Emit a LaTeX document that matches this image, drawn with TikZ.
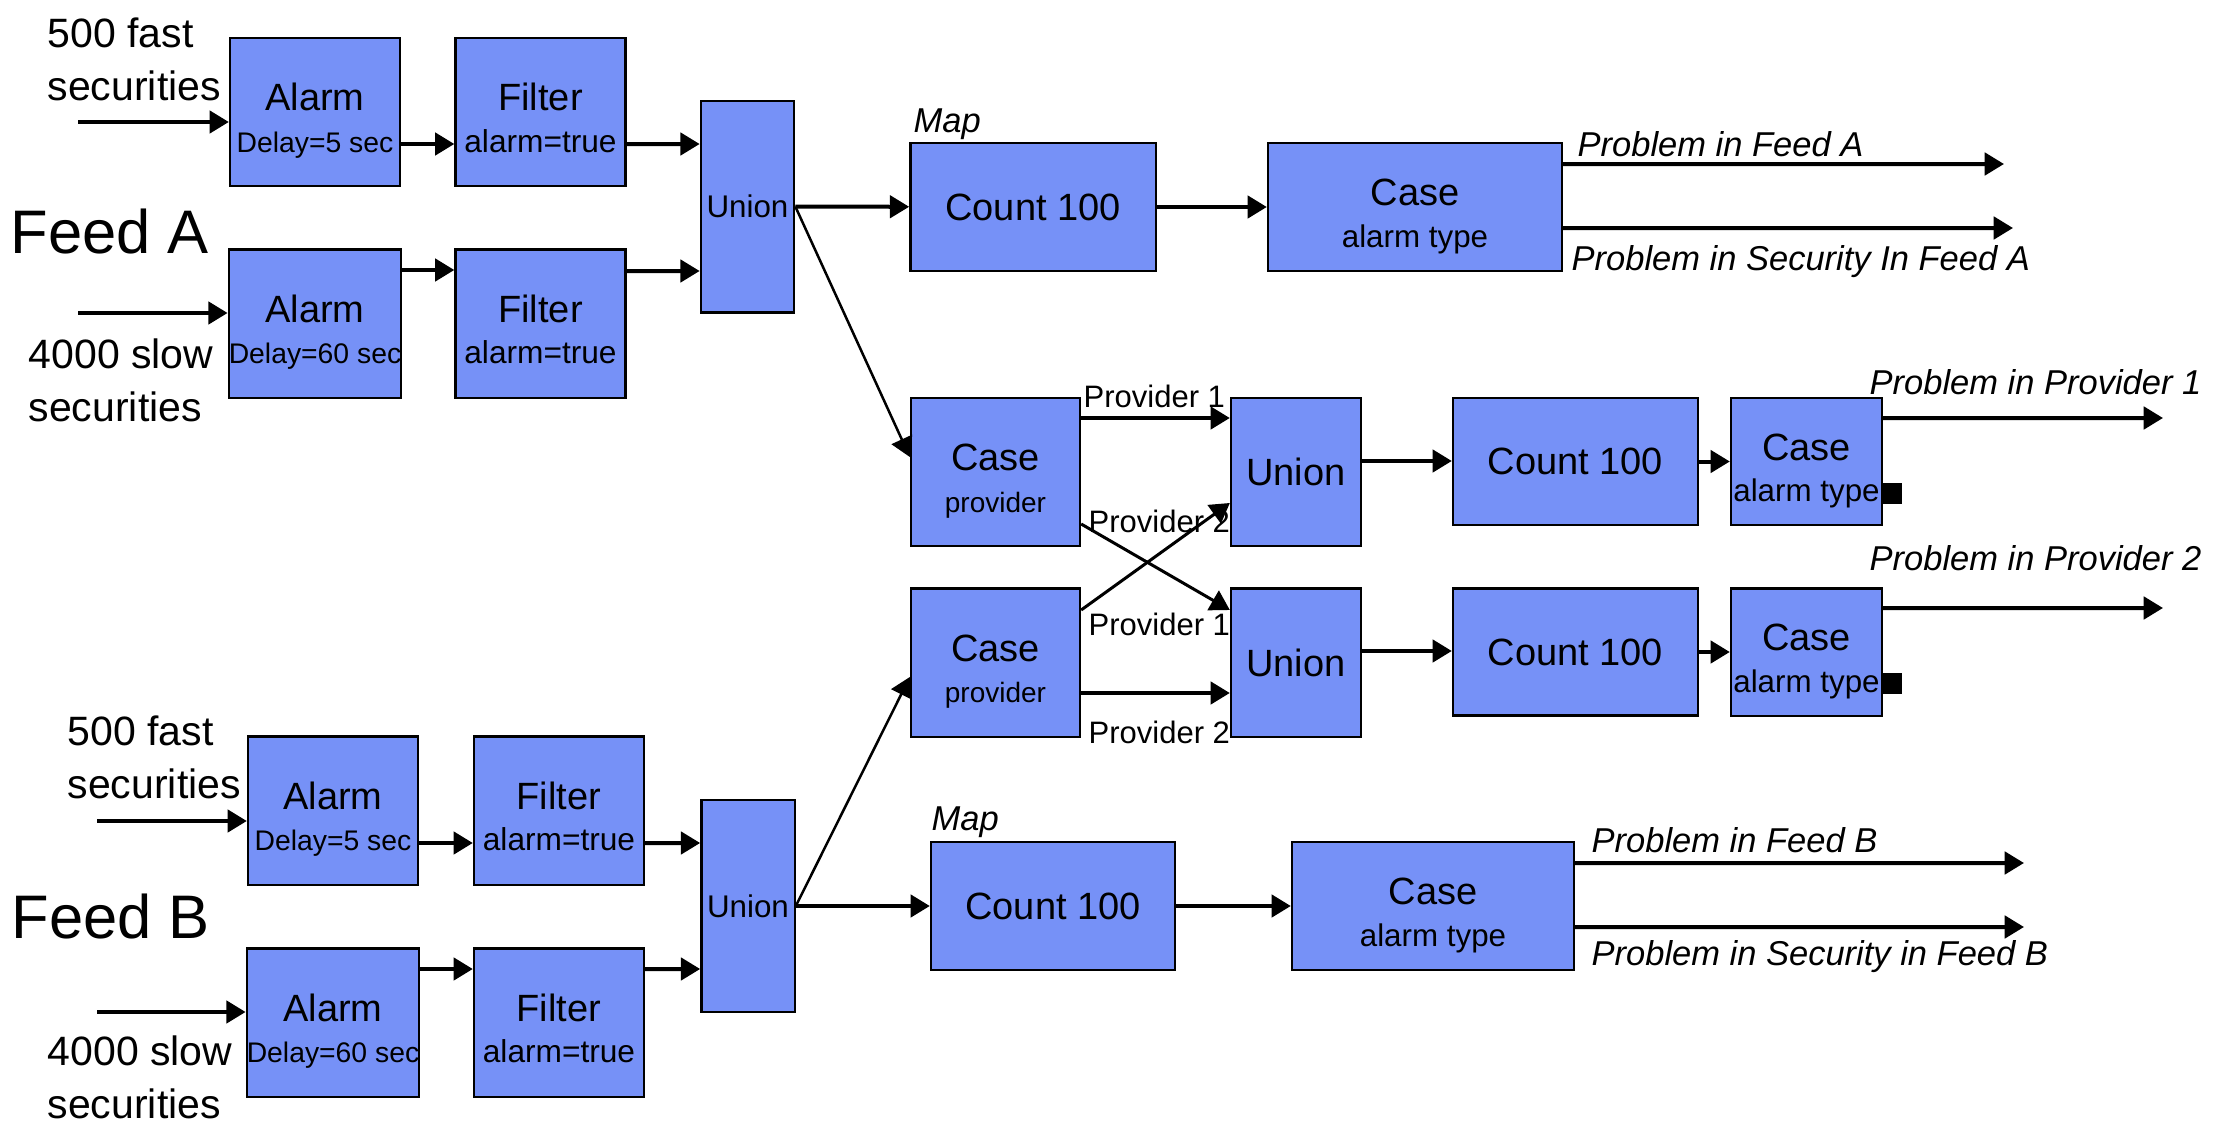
\documentclass[tikz,border=0pt]{standalone}
\usepackage{fontspec}
\setmainfont{Liberation Sans}
\usetikzlibrary{arrows.meta}

\begin{document}
\begin{tikzpicture}[x=0.3pt,y=0.3pt,yscale=-1,xscale=1,
    opbox/.style={draw=black,line width=0.7pt,fill={rgb,255:red,118;green,145;blue,247},inner sep=0pt,align=center,font=\fontsize{11.4}{12.5}\selectfont},
    twoline/.style={text height=24.1pt,text depth=0pt},
    alarmbox/.style={opbox,twoline,minimum width=51pt,minimum height=44.5pt},
    unionbox/.style={opbox,minimum width=28pt,minimum height=63.5pt,font=\fontsize{9.4}{11}\selectfont},
    countbox/.style={opbox,minimum width=73.6pt,minimum height=38.4pt},
    casebox/.style={opbox,twoline,minimum height=38.4pt},
    provbox/.style={opbox,twoline,minimum width=50.7pt,minimum height=44.5pt},
    punion/.style={opbox,minimum width=39pt,minimum height=44.5pt},
    pcase/.style={opbox,twoline,minimum width=45.3pt,minimum height=38.2pt},
    marker/.style={fill=black,inner sep=0pt,minimum width=6pt,minimum height=6.3pt},
    flow/.style={line width=1.2pt,-{Triangle[length=5.8pt,width=6.7pt]}},
    thinflow/.style={line width=0.75pt,-{Triangle[length=5.8pt,width=6.7pt]}},
    crossflow/.style={line width=0.9pt,-{Triangle[length=5.8pt,width=6.7pt]}},
    outlabel/.style={anchor=base west,inner sep=0pt,font=\fontsize{10.35}{12}\selectfont\itshape},
    provlabel/.style={anchor=base west,inner sep=0pt,font=\fontsize{9.3}{11}\selectfont},
    inlabel/.style={anchor=north west,inner sep=0pt,align=left,font=\fontsize{12.3}{15.8}\selectfont},
    feedlabel/.style={anchor=base west,inner sep=0pt,font=\fontsize{18.45}{22}\selectfont}
  ]
        \useasboundingbox (0,0) rectangle (2214,1136);

        % Feed A
        \node[feedlabel] (feedA) at (10,253) {Feed A};
        \node[inlabel] (fastA) at (47,17) {500 fast\\securities};
        \node[inlabel] (slowA) at (28,338) {4000 slow\\securities};
        \node[alarmbox] (alarmA1) at (315,112) {Alarm\\{\fontsize{8.5}{12.5}\selectfont Delay=5 sec}};
        \node[alarmbox] (filterA1) at (540.5,112) {Filter\\{\fontsize{9.5}{12.5}\selectfont alarm=true}};
        \node[alarmbox] (alarmA2) at (315,323.5) {Alarm\\{\fontsize{8.5}{12.5}\selectfont Delay=60 sec}};
        \node[alarmbox] (filterA2) at (540.5,323.5) {Filter\\{\fontsize{9.5}{12.5}\selectfont alarm=true}};
        \node[unionbox] (unionA) at (747.5,206.5) {Union};
        \node[outlabel] (mapA) at (913,132) {Map};
        \node[countbox] (countA) at (1033,207) {Count 100};
        \node[casebox,minimum width=88.2pt] (caseA) at (1415,207) {Case\\{\fontsize{9.4}{12.5}\selectfont alarm type}};
        \node[outlabel] (probFeedA) at (1577,156) {Problem in Feed A};
        \node[outlabel] (probSecA) at (1571,270) {Problem in Security In Feed A};
        \coordinate (inA1) at (78,122);
        \coordinate (inA2) at (78,313);
        \coordinate (outA1) at (2004,164);
        \coordinate (outA2) at (2013,228);

        % Providers
        \node[provbox] (provA) at (995.5,472) {Case\\{\fontsize{8.4}{12.5}\selectfont provider}};
        \node[provbox] (provB) at (995.5,662.5) {Case\\{\fontsize{8.4}{12.5}\selectfont provider}};
        \node[punion] (unionP1) at (1296,472) {Union};
        \node[punion] (unionP2) at (1296,662.5) {Union};
        \node[countbox,minimum width=73.5pt,minimum height=38.1pt] (countP1) at (1575.5,461.5) {Count 100};
        \node[countbox,minimum width=73.5pt,minimum height=38.1pt] (countP2) at (1575.5,652) {Count 100};
        \node[pcase] (caseP1) at (1806.5,461.5) {Case\\{\fontsize{9.4}{12.5}\selectfont alarm type}};
        \node[pcase] (caseP2) at (1806.5,652) {Case\\{\fontsize{9.4}{12.5}\selectfont alarm type}};
        \node[marker] (markP1) at (1892,493) {};
        \node[marker] (markP2) at (1892,683) {};
        \node[provlabel] (provOneA) at (1083,407) {Provider 1};
        \node[provlabel] (provTwoA) at (1088,532) {Provider 2};
        \node[provlabel] (provOneB) at (1088,635) {Provider 1};
        \node[provlabel] (provTwoB) at (1088,743) {Provider 2};
        \node[outlabel] (probProvA) at (1869,394) {Problem in Provider 1};
        \node[outlabel] (probProvB) at (1869,570) {Problem in Provider 2};
        \coordinate (outP1) at (2163,418);
        \coordinate (outP2) at (2163,608);

        % Feed B
        \node[feedlabel] (feedB) at (11,938) {Feed B};
        \node[inlabel] (fastB) at (67,715) {500 fast\\securities};
        \node[inlabel] (slowB) at (47,1035) {4000 slow\\securities};
        \node[alarmbox] (alarmB1) at (333,810.5) {Alarm\\{\fontsize{8.5}{12.5}\selectfont Delay=5 sec}};
        \node[alarmbox] (filterB1) at (559,810.5) {Filter\\{\fontsize{9.5}{12.5}\selectfont alarm=true}};
        \node[alarmbox] (alarmB2) at (333,1022.5) {Alarm\\{\fontsize{8.5}{12.5}\selectfont Delay=60 sec}};
        \node[alarmbox] (filterB2) at (559,1022.5) {Filter\\{\fontsize{9.5}{12.5}\selectfont alarm=true}};
        \node[unionbox] (unionB) at (748,906) {Union};
        \node[outlabel] (mapB) at (931,830) {Map};
        \node[countbox,minimum width=73.2pt] (countB) at (1053,906) {Count 100};
        \node[casebox,minimum width=84.6pt] (caseB) at (1433,906) {Case\\{\fontsize{9.4}{12.5}\selectfont alarm type}};
        \node[outlabel] (probFeedB) at (1591,852) {Problem in Feed B};
        \node[outlabel] (probSecB) at (1591,965) {Problem in Security in Feed B};
        \coordinate (inB1) at (97,821);
        \coordinate (inB2) at (97,1012);
        \coordinate (outB1) at (2024,863);
        \coordinate (outB2) at (2024,927);

        % Connection
        \draw[flow] (inA1) -- (inA1 -| alarmA1.west);
        \draw[flow] (inA2) -- (inA2 -| alarmA2.west);
        \draw[flow] ([yshift=9.6pt]alarmA1.east) -- ([yshift=9.6pt]filterA1.west);
        \draw[flow] ([yshift=-16.05pt]alarmA2.east) -- ([yshift=-16.05pt]filterA2.west);
        \draw[flow] ([yshift=9.6pt]filterA1.east) -- ([yshift=-18.75pt]unionA.west);
        \draw[flow] ([yshift=-15.75pt]filterA2.east) -- ([yshift=19.35pt]unionA.west);
        \draw[flow] (unionA) -- (countA);
        \draw[flow] (countA) -- (caseA);
        \draw[flow] ([yshift=-12.9pt]caseA.east) -- (outA1);
        \draw[flow] ([yshift=6.3pt]caseA.east) -- (outA2);
        \draw[thinflow] (unionA.east) -- ([yshift=-4.5pt]provA.west);

        % Connection
        \draw[flow] ([yshift=-16.2pt]provA.east) -- ([yshift=-16.2pt]unionP1.west);
        \draw[crossflow] ([yshift=15.6pt]provA.east) -- ([yshift=-15.75pt]unionP2.west);
        \draw[crossflow] ([yshift=-15.75pt]provB.east) -- ([yshift=9.3pt]unionP1.west);
        \draw[flow] ([yshift=9.15pt]provB.east) -- ([yshift=9.15pt]unionP2.west);
        \draw[flow] ([yshift=-3.3pt]unionP1.east) -- ([yshift=-3.3pt]unionP1.east -| countP1.west);
        \draw[flow] ([yshift=-3.45pt]unionP2.east) -- ([yshift=-3.45pt]unionP2.east -| countP2.west);
        \draw[flow] (countP1) -- (caseP1);
        \draw[flow] (countP2) -- (caseP2);
        \draw[flow] ([yshift=-13.05pt]caseP1.east) -- (outP1);
        \draw[flow] ([yshift=-13.2pt]caseP2.east) -- (outP2);

        % Connection
        \draw[flow] (inB1) -- (inB1 -| alarmB1.west);
        \draw[flow] (inB2) -- (inB2 -| alarmB2.west);
        \draw[flow] ([yshift=9.75pt]alarmB1.east) -- ([yshift=9.75pt]filterB1.west);
        \draw[flow] ([yshift=-16.05pt]alarmB2.east) -- ([yshift=-16.05pt]filterB2.west);
        \draw[flow] ([yshift=9.75pt]filterB1.east) -- ([yshift=-18.9pt]unionB.west);
        \draw[flow] ([yshift=-16.05pt]filterB2.east) -- ([yshift=18.9pt]unionB.west);
        \draw[flow] (unionB) -- (countB);
        \draw[flow] (countB) -- (caseB);
        \draw[flow] ([yshift=-12.9pt]caseB.east) -- (outB1);
        \draw[flow] ([yshift=6.3pt]caseB.east) -- (outB2);
        \draw[thinflow] (unionB.east) -- ([yshift=4.35pt]provB.west);

\end{tikzpicture}
\end{document}
